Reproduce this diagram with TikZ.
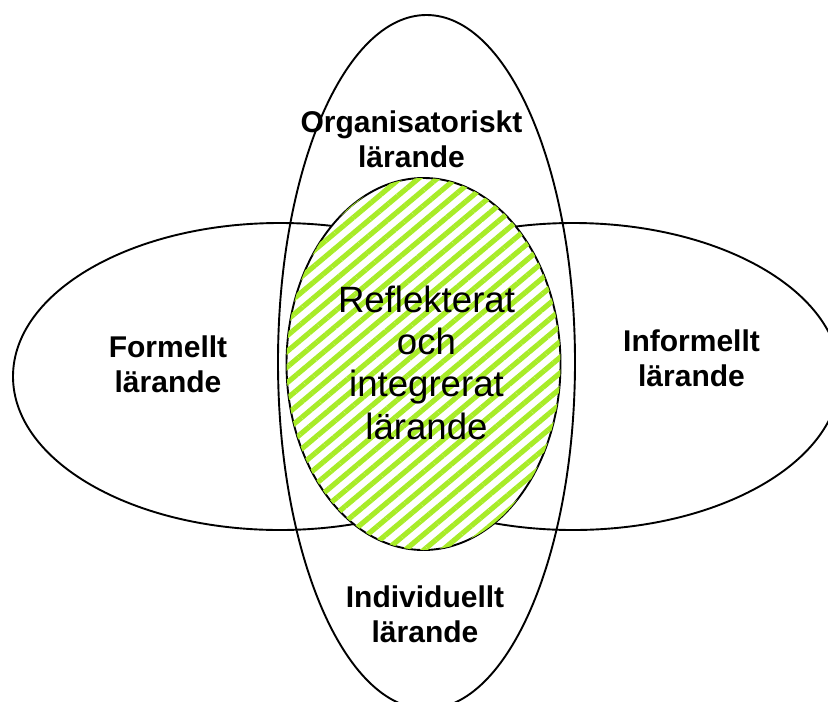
\documentclass[tikz,border=0pt]{standalone}
\usepackage{fontspec}
\setmainfont{Liberation Sans}
\usetikzlibrary{shapes.geometric,patterns.meta}
\definecolor{hatchgreen}{RGB}{168,236,40}
\begin{document}
\begin{tikzpicture}[x=1pt,y=-1pt,
  setshape/.style={ellipse, draw=black, line width=1.9pt, inner sep=0pt},
  setlabel/.style={font=\bfseries\fontsize{30}{34.5}\selectfont, align=center, anchor=base},
  corelabel/.style={font=\fontsize{36.6}{42.3}\selectfont, align=center, anchor=base}]
\useasboundingbox (0,0) rectangle (828,702);
% the two horizontal sets
\node[setshape, minimum width=534pt, minimum height=307pt] (formal) at (280,376.5) {};
\node[setshape, minimum width=534pt, minimum height=307pt] (informal) at (573,376.5) {};
% hatched core, covering the horizontal outlines
\node[setshape, fill=white, minimum width=274pt, minimum height=372pt,
  postaction={pattern={Lines[angle=40,distance=12pt,line width=5.2pt]}, pattern color=hatchgreen}]
  (core) at (423.5,364) {};
% the vertical set on top
\node[setshape, minimum width=297pt, minimum height=694pt] (vertical) at (426.5,362) {};
% texts (anchored at the baseline of their last line)
\node[setlabel] (org) at (411.5,167) {Organisatoriskt\\lärande};
\node[setlabel] (form) at (168,392) {Formellt\\lärande};
\node[setlabel] (inf) at (691.5,386) {Informellt\\lärande};
\node[setlabel] (ind) at (425,642) {Individuellt\\lärande};
\node[corelabel] (coretext) at (426.5,439) {Reflekterat\\och\\integrerat\\lärande};
\end{tikzpicture}
\end{document}
